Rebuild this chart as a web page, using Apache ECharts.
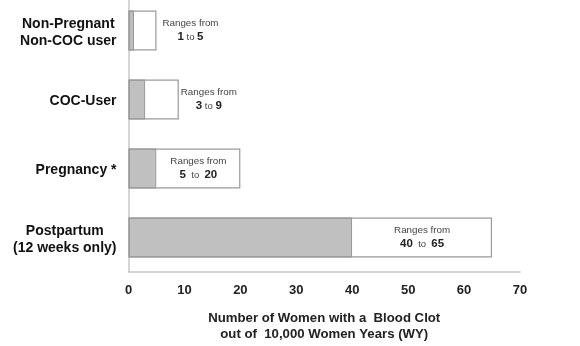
<!DOCTYPE html>
<html>
<head>
<meta charset="utf-8">
<style>
  html, body { margin: 0; padding: 0; background: #fff; }
  #chart { width: 580px; height: 346px; }
</style>
<script src="https://cdn.jsdelivr.net/npm/echarts@6/dist/echarts.min.js"></script>
</head>
<body>
<div id="chart"></div>
<script>
// Blood clot incidence per 10,000 women-years: lower and upper bound of each range
var categories = ['Non-Pregnant\nNon-COC user', 'COC-User', 'Pregnancy *', 'Postpartum\n(12 weeks only)'];
var lowValues = [1, 3, 5, 40];
var highValues = [5, 9, 20, 65];
var xTicks = [0, 10, 20, 30, 40, 50, 60, 70];

var FONT = '"Liberation Sans", Arial, sans-serif';
var EDGE = '#9a9a9a';

var chart = echarts.init(document.getElementById('chart'), null, { renderer: 'canvas' });

// The white box spans from the lower to the upper bound, stacked on the grey part
var spanData = highValues.map(function (hi, i) {
  var lo = lowValues[i];
  var narrow = i < 2; // short boxes carry their note outside, to the right
  return {
    value: hi - lo,
    label: {
      show: true,
      position: narrow ? 'right' : 'inside',
      distance: narrow ? (i === 0 ? 34 : 30) : 5,
      formatter: '{t|Ranges from}\n{n|' + lo + '}{s|' + (narrow ? ' to ' : '  to  ') + '}{n|' + hi + '}'
    }
  };
});

chart.setOption({
  animation: false,
  backgroundColor: '#fff',
  grid: { left: 128.5, right: 60, top: -4, bottom: 74, outerBoundsMode: 'none' },
  xAxis: {
    type: 'value',
    min: xTicks[0],
    max: xTicks[xTicks.length - 1],
    interval: 10,
    axisLine: { show: true, lineStyle: { color: '#c8c8c8', width: 1.5 } },
    axisTick: { show: false },
    splitLine: { show: false },
    axisLabel: { color: '#222', fontFamily: FONT, fontWeight: 'bold', fontSize: 13, margin: 12 },
    name: 'Number of Women with a  Blood Clot\nout of  10,000 Women Years (WY)',
    nameLocation: 'middle',
    nameGap: 38,
    nameTextStyle: { color: '#222', fontFamily: FONT, fontWeight: 'bold', fontSize: 13.2, lineHeight: 16.5 }
  },
  yAxis: {
    type: 'category',
    data: categories,
    inverse: true,
    axisLine: { show: true, lineStyle: { color: '#c8c8c8', width: 1.5 } },
    axisTick: { show: false },
    axisLabel: {
      margin: 12,
      align: 'right',
      padding: [4, 0, 0, 0],
      // each line centred inside a right-anchored block
      formatter: function (v) {
        return v.split('\n').map(function (line) { return '{c|' + line + '}'; }).join('\n');
      },
      rich: {
        c: { color: '#111', fontFamily: FONT, fontWeight: 'bold', fontSize: 14, lineHeight: 16.5, align: 'center' }
      }
    }
  },
  series: [
    {
      name: 'low',
      type: 'bar',
      stack: 'range',
      data: lowValues,
      barWidth: 40,
      z: 2,
      itemStyle: { color: '#c0c0c0', borderColor: EDGE, borderWidth: 1.2 }
    },
    {
      name: 'span',
      type: 'bar',
      stack: 'range',
      data: spanData,
      barWidth: 40,
      z: 2,
      itemStyle: { color: '#ffffff', borderWidth: 0 },
      label: {
        color: '#333',
        fontFamily: FONT,
        align: 'center',
        rich: {
          t: { fontSize: 9.8, color: '#444', fontFamily: FONT, lineHeight: 13.5 },
          n: { fontSize: 11.5, fontWeight: 'bold', color: '#222', fontFamily: FONT, lineHeight: 13.5 },
          s: { fontSize: 9.5, color: '#444', fontFamily: FONT, lineHeight: 13.5 }
        }
      }
    },
    {
      // outer frame of each range box, from 0 to the upper bound
      name: 'frame',
      type: 'bar',
      data: highValues,
      barWidth: 40,
      barGap: '-100%',
      silent: true,
      z: 3,
      itemStyle: { color: 'rgba(0,0,0,0)', borderColor: EDGE, borderWidth: 1.2 }
    }
  ]
});
</script>
</body>
</html>
